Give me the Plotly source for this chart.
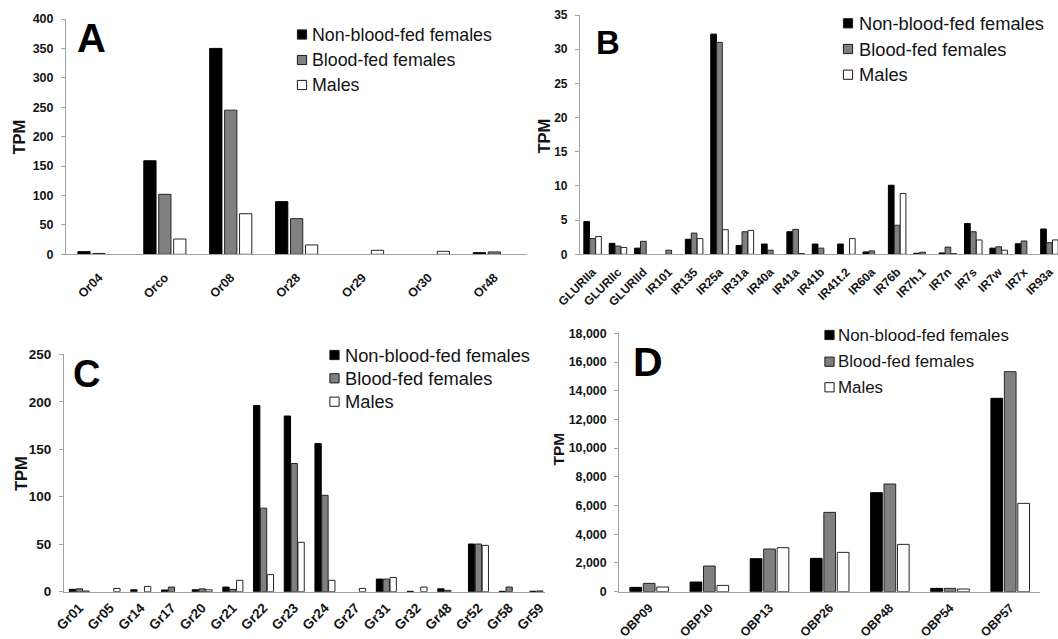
import plotly.graph_objects as go

W, H = 1058, 639
SERIES = ["Non-blood-fed females", "Blood-fed females", "Males"]
FILLS = ["#000000", "#808080", "#ffffff"]

# ---------------- data ----------------
A_cats = ["Or04", "Orco", "Or08", "Or28", "Or29", "Or30", "Or48"]
A_nbf = [4.5, 159, 350, 89.5, 0, 0, 2.8]
A_bf = [1.5, 102, 245, 60.6, 0, 0, 4.0]
A_m = [0, 26, 69, 15.9, 6.8, 5.1, 0]

B_cats = ["GLURIIa", "GLURIIc", "GLURIId", "IR101", "IR135", "IR25a", "IR31a",
          "IR40a", "IR41a", "IR41b", "IR41t.2", "IR60a", "IR76b", "IR7h.1",
          "IR7n", "IR7s", "IR7w", "IR7x", "IR93a"]
B_nbf = [4.78, 1.6, 0.9, 0, 2.2, 32.2, 1.3, 1.5, 3.3, 1.5, 1.5, 0.35, 10.1, 0.15,
         0.2, 4.5, 0.9, 1.55, 3.7]
B_bf = [2.3, 1.2, 1.9, 0.6, 3.1, 31.0, 3.3, 0.6, 3.65, 0.9, 0, 0.5, 4.25, 0.3,
        1.05, 3.3, 1.1, 1.95, 1.7]
B_m = [2.6, 1.0, 0, 0, 2.3, 3.6, 3.5, 0, 0.1, 0, 2.3, 0, 8.9, 0,
       0.1, 2.1, 0.6, 0, 2.1]

C_cats = ["Gr01", "Gr05", "Gr14", "Gr17", "Gr20", "Gr21", "Gr22", "Gr23", "Gr24",
          "Gr27", "Gr31", "Gr32", "Gr48", "Gr52", "Gr58", "Gr59"]
C_nbf = [2.5, 0, 2, 1.8, 2, 4.9, 196, 185, 156, 0, 13.3, 0.4, 3, 50.2, 0.4, 0.5]
C_bf = [3, 0, 0, 4.9, 3, 2.5, 88, 135, 101.5, 0, 13.3, 0, 1.4, 50.2, 4.9, 0.8]
C_m = [0.7, 3.5, 5.6, 0, 2, 12, 18, 52, 12, 3.5, 15, 4.9, 0, 48.8, 0, 0]

D_cats = ["OBP09", "OBP10", "OBP13", "OBP26", "OBP48", "OBP54", "OBP57"]
D_nbf = [302, 673, 2299, 2322, 6898, 232, 13470]
D_bf = [580, 1788, 2973, 5527, 7501, 232, 15328]
D_m = [325, 441, 3066, 2740, 3298, 186, 6154]

# ---------------- layout specs (pixels) ----------------
panels = [
    dict(letter="A", cats=A_cats, vals=[A_nbf, A_bf, A_m], x0=66, cw=65.9, x1=527,
         yb=254.3, yt=19, ymax=400, dtick=50, gap=0.32, ggap=0.18, fmt="",
         tick=12.5, xstand=10, letter_xy=(75, 38), letter_size=40,
         leg_sq=302, leg_tx=310, leg_rows=[34.5, 60, 85], leg_font=17.8,
         tpm=(18.5, 137), tpm_size=16.5),
    dict(letter="B", cats=B_cats, vals=[B_nbf, B_bf, B_m], x0=579.9, cw=25.38, x1=1058,
         yb=254.3, yt=15, ymax=35, dtick=5, gap=0.30, ggap=0.04, fmt="",
         tick=12, xstand=5, letter_xy=(594, 43), letter_size=33,
         leg_sq=848, leg_tx=857, leg_rows=[23.3, 49, 74.7], leg_font=18.3,
         tpm=(543.5, 136), tpm_size=16.5),
    dict(letter="C", cats=C_cats, vals=[C_nbf, C_bf, C_m], x0=64, cw=30.7, x1=545,
         yb=591.7, yt=354.3, ymax=250, dtick=50, gap=0.33, ggap=0.08, fmt="",
         tick=13.5, xstand=2, letter_xy=(71, 374), letter_size=38,
         leg_sq=334.5, leg_tx=343, leg_rows=[355, 378.3, 401.7], leg_font=18.3,
         tpm=(21, 474), tpm_size=16.5),
    dict(letter="D", cats=D_cats, vals=[D_nbf, D_bf, D_m], x0=619.1, cw=60.17, x1=1040.3,
         yb=591.7, yt=333.3, ymax=18000, dtick=2000, gap=0.33, ggap=0.13, fmt=",",
         tick=12.4, xstand=3, letter_xy=(631, 362), letter_size=41,
         leg_sq=829.5, leg_tx=836, leg_rows=[335, 361.7, 387.3], leg_font=16.9,
         tpm=(557.5, 449), tpm_size=15.5),
]

FONT = "Liberation Sans, Arial, sans-serif"
AXIS_COL = "#a3a3a3"
TXT = "#141414"

def px(x):
    return x / W

def py(y):
    return 1 - y / H

fig = go.Figure()
layout = dict(width=W, height=H, margin=dict(l=0, r=0, t=0, b=0, autoexpand=False),
              paper_bgcolor="white", plot_bgcolor="white", barmode="overlay",
              showlegend=False, font=dict(family=FONT, color=TXT))
annotations = []
shapes = []

for k, p in enumerate(panels):
    sfx = "" if k == 0 else str(k + 1)
    group = 1 - p["gap"]
    slot = group / 3
    bw = slot * (1 - p["ggap"])
    for i, (name, vals) in enumerate(zip(SERIES, p["vals"])):
        fig.add_trace(go.Bar(
            x=p["cats"], y=[v if v > 0 else None for v in vals], name=name,
            xaxis="x" + sfx, yaxis="y" + sfx,
            width=bw, offset=-group / 2 + i * slot + slot * p["ggap"] / 2,
            marker=dict(color=FILLS[i], line=dict(color="#000000" if i == 0 else "#262626", width=1)),
            showlegend=False,
        ))
    xr_end = -0.5 + (p["x1"] - p["x0"]) / p["cw"]
    layout["xaxis" + sfx] = dict(
        domain=[px(p["x0"]), min(1.0, px(p["x1"]))], anchor="y" + sfx,
        type="category", range=[-0.5, xr_end], automargin=False,
        showline=True, linecolor=AXIS_COL, linewidth=1, ticks="",
        tickangle=-45, showgrid=False, zeroline=False, ticklabelstandoff=p["xstand"],
        tickfont=dict(family=FONT, size=p["tick"], color=TXT, weight="bold"),
    )
    layout["yaxis" + sfx] = dict(
        domain=[py(p["yb"]), py(p["yt"])], anchor="x" + sfx, automargin=False,
        range=[0, p["ymax"]], dtick=p["dtick"], tick0=0, tickformat=p["fmt"],
        showline=True, linecolor=AXIS_COL, linewidth=1,
        ticks="outside", ticklen=4, tickcolor=AXIS_COL, tickwidth=1,
        showgrid=False, zeroline=False, ticklabelstandoff=5,
        tickfont=dict(family=FONT, size=p["tick"], color=TXT, weight="bold"),
    )
    annotations.append(dict(
        text=p["letter"], xref="paper", yref="paper",
        x=px(p["letter_xy"][0]), y=py(p["letter_xy"][1]),
        xanchor="left", yanchor="middle", showarrow=False,
        font=dict(family=FONT, size=p["letter_size"], color="#000000", weight="bold"),
    ))
    annotations.append(dict(
        text="TPM", xref="paper", yref="paper",
        x=px(p["tpm"][0]), y=py(p["tpm"][1]), textangle=-90,
        xanchor="center", yanchor="middle", showarrow=False,
        font=dict(family=FONT, size=p["tpm_size"], color=TXT, weight="bold"),
    ))
    s = 4.6
    for i, name in enumerate(SERIES):
        cy = p["leg_rows"][i]
        shapes.append(dict(
            type="rect", xref="paper", yref="paper",
            x0=px(p["leg_sq"] - s), x1=px(p["leg_sq"] + s),
            y0=py(cy + s), y1=py(cy - s),
            fillcolor=FILLS[i], line=dict(color="#1a1a1a", width=1),
        ))
        annotations.append(dict(
            text=name, xref="paper", yref="paper",
            x=px(p["leg_tx"]), y=py(cy), xanchor="left", yanchor="middle",
            showarrow=False,
            font=dict(family=FONT, size=p["leg_font"], color=TXT),
        ))

layout["annotations"] = annotations
layout["shapes"] = shapes
fig.update_layout(**layout)
fig.write_html("out.html")
